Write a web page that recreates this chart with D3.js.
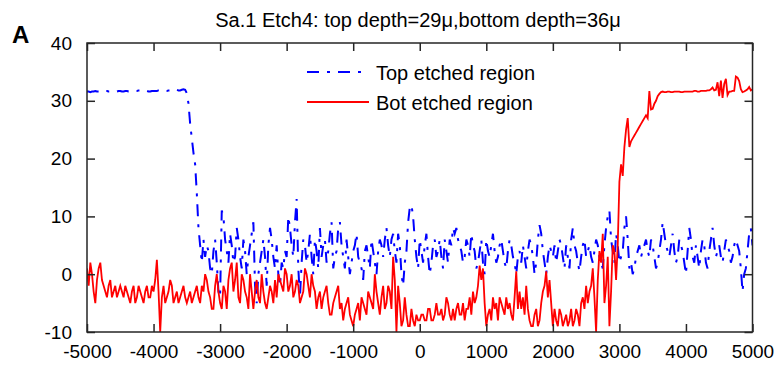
<!DOCTYPE html>
<html lang="en">
<head>
	<meta charset="UTF-8">
	<script src="https://d3js.org/d3.v7.min.js"></script>
	<title>Sa.1 Etch4</title>
<style>
	body { margin: 0; background: #fff; }
	text { font-family: "Liberation Sans", Arial, sans-serif; fill: #000; }
</style>
</head>
<body>
	<svg width="777" height="368"></svg>
<script>
	// sample positions along the scan (every 25, from -5000)
	var xStart = -5000, xStep = 25;

	// top etched region (blue, dash-dot); one row = 500 units
	var topRegion = [
		31.6,
		31.6, 31.5, 31.6, 31.6, 31.7, 31.6, 31.6, 31.7, 31.6, 31.6, 31.7, 31.7, 31.6, 31.6, 31.7, 31.7, 31.6, 31.6, 31.7, 31.7,
		31.6, 31.6, 31.7, 31.7, 31.6, 31.6, 31.6, 31.6, 31.7, 31.7, 31.8, 31.8, 31.7, 31.6, 31.7, 31.7, 31.6, 31.6, 31.7, 31.7,
		31.7, 31.7, 31.8, 31.8, 31.7, 31.6, 31.7, 31.7, 31.8, 31.8, 31.7, 31.7, 31.9, 31.9, 31.8, 31.8, 31.9, 32.0, 31.9, 31.3,
		29.5, 26, 23.5, 21, 19, 14, 8, 5, 2, 6, 3, 5, 4, 1, 0, 4, 6, 2, -3, -4,
		11, 10, 6, 4, 2, 7, 5, 2, 3, 8, 6, 3, 1, 6, 4, 0, 3, 5, 7, 9,
		-2, -5, 0, 2, 4, 6, 3, -2, 5, 8, 6, 3, 1, 5, 0, -2, 2, 1, 4, 3,
		10, 8, 5, 3, 9, 13, 1, -4, 2, 6, 5, 2, 4, 7, 3, 0, 6, 4, 1, 8,
		3, 5, 6, 2, 4, 7, 9, 1, 3, 4, 8, 9, 5, 3, 1, 6, 3, 0, 2, 4,
		5, 7, 3, 2, 1, -1, 4, 5, 3, 1, 6, 4, 2, 0, 4, 6, 5, 3, 6, 8,
		5, 3, 6, 7, 4, 2, 7, 5, 0, -2, 2, 4, 9, 11.5, 12, 10, 6, 3, 1, 6,
		4, 2, 5, 7, 3, 0, 2, 5, 6, 3, 4, 6, 3, 1, 6, 4, 2, 6, 5, 8,
		7, 8, 6, 5, 4, 2, 3, 6, 5, 3, 7, 5, 4, 1, 2, 4, 6, 2, 0, 6,
		4, 3, 5, 7, 4, 2, 3, 5, 6, 4, 2, 1, 4, 6, 5, 3, 2, 0, 3, 4,
		2, 5, 3, 1, 4, 6, 5, 3, 0, 2, 6, 8.5, 7, 4, 2, 0, 3, 5, 4, 3,
		5, 2, 4, 6, 5, 3, 1, 5, 3, 1, 6, 8, 5, 4, 2, 0.5, 3, 5, 6, 3,
		4, 5, 3, 2, 4, 6, 5, 3, 2, 1, 5, 8, 10, 11, 6, 4, 2, 7, 5, 2,
		3, 4, 8, 10, 6, 1, 2, 0, 1, 3, 4, 5, 3, 4, 5, 6, 4, 3, 6, 5,
		3, 1, 2, 4, 6, 9, 7, 5, 4, 3, 5, 7, 4, 2, 3, 6, 5, 4, 2, 0,
		4, 8, 6, 3, 2, 5, 3, 1, 4, 6, 5, 2, 1, 4, 6, 8, 5, 3, 4, 5,
		3, 2, 4, 6, 5, 4, 2, 3, 5, 6, 5, 4, 1, -3, 0, 1, 4, 7, 8, 5
	];

	// bottom etched region (red, solid); one row = 500 units
	var botRegion = [
		1,
		-2, 2, 0, -3, -5, -1, 1, 2, -1, -2, -3, -4, -2, -1, -4, -3, -2, -4, -3, -2,
		-3, -4, -2, -3, -4, -5, -3, -2, -5, -4, -2, -3, -4, -5, -3, -2, -4, -4, -2, -3,
		-1, 2.5, -3, -10, -4, -2, -5, -4, -3, -1, -2, -5, -4, -3, -5, -4, -3, -2, -4, -5,
		-4, -3, -5, -4, -3, -2, -4, -5, -2, -3, 0, -1, -3, -4, -6, -6, -2, 0, -3, -5,
		-6, -2, -3, -6, -1, 1, 2, -3, -1, 2, -4, -5, 0, -1, -3, -4, -6, 0, -3, -6,
		-3, -1, -4, -5, 0, -3, -5, -6, -4, -2, -3, -5, -1, -4, 0, -1, -2, -3, 1, 0,
		-3, -2, 0, -4, -3, -1, -2, -5, -4, -3, 1, 0, -2, -4, 0, -2, -3, -6, -4, -3,
		-6, -4, -3, -2, -5, -7, -7, -5, -4, -3, -2, -6, -5, -8, -6, -5, -4, -7, -8, -9,
		-7, -6, -5, -8, -4, -5, -6, -7, -3, -4, -5, -6, 0, -3, -5, -7, -4, -2, -6, -5,
		-2, -3, -6, 3, -1, -10, -2, -5, -9, -8, -4, -7, -9, -9, -6, -8, -9, -7, -8, -8,
		-7, -7, -8, -8, -6, -6, -8, -8, -7, -5, -7, -7, -6, -8, -7, -4, -5, -7, -8, -6,
		-8, -6, -5, -7, -7, -5, -8, -6, -6, -4, -7, -3, -5, -4, -2, 1.5, -1, 1, -5, -9,
		-7, -6, -8, -4, -6, -5, -8, -4, -5, -6, -7, -4, -6, -5, -7, -8, -4, 0.5, -6, -3,
		-6, -4, -7, -2, -6, -8, -9, -9, -7, -6, -9, -8, -5, -3, -2, 0.5, -4, -1, -5, -9,
		-6, -8, -9, -6, -7, -9, -8, -7, -9, -8, -6, -9, -8, -6, -7, -9, -5, -4, -6, -2,
		-5, -3, -2, 1, -4, -10, -1, 4, 2, 7, -5, -2, 3, -9, -3, 5, 4, -1, 5, 16,
		19, 17, 22, 25, 27, 22, 23, 23.5, 24, 24.5, 25, 25.5, 26, 26.5, 27, 27.5, 27, 31.7, 28.5, 28.6,
		29.5, 30, 30.8, 31.2, 31.5, 31.6, 31.5, 31.5, 31.6, 31.6, 31.5, 31.5, 31.6, 31.6, 31.6, 31.6, 31.5, 31.5, 31.6, 31.6,
		31.6, 31.6, 31.6, 31.6, 31.7, 31.7, 31.6, 31.6, 31.7, 31.7, 31.7, 31.7, 31.8, 31.8, 32.0, 32.3, 31.8, 31.9, 33.2, 30.8,
		33.5, 30.5, 32.9, 33.8, 31.0, 31.6, 31.6, 31.7, 31.7, 34.2, 34.0, 33.4, 32.0, 31.5, 31.6, 31.8, 32.0, 32.4, 31.8, 32.0
	];

	var xTicks = [-5000, -4000, -3000, -2000, -1000, 0, 1000, 2000, 3000, 4000, 5000];
	var yTicks = [-10, 0, 10, 20, 30, 40];
	var seriesNames = ["Top etched region", "Bot etched region"];
	var title = "Sa.1 Etch4: top depth=29\u03bc,bottom depth=36\u03bc";

	var svg = d3.select('svg');
	var plotL = 87, plotR = 752.5, plotT = 43, plotB = 332;

	var x = d3.scaleLinear().domain([-5000, 5000]).range([plotL, plotR]);
	var y = d3.scaleLinear().domain([-10, 40]).range([plotB, plotT]);

	svg.append('rect').attr('width', 777).attr('height', 368).attr('fill', '#fff');

	svg.append('clipPath').attr('id', 'plotclip')
		.append('rect')
		.attr('x', plotL).attr('y', plotT - 1)
		.attr('width', plotR - plotL).attr('height', plotB - plotT + 2);

	function toPoints(vals) {
		return vals.map(function(v, i) { return [xStart + i * xStep, v]; });
	}

	var line = d3.line()
		.x(function(d) { return x(d[0]); })
		.y(function(d) { return y(d[1]); });

	var plot = svg.append('g').attr('clip-path', 'url(#plotclip)');

	plot.append('path')
		.datum(toPoints(topRegion))
		.attr('d', line)
		.attr('fill', 'none')
		.attr('stroke', '#0000ff')
		.attr('stroke-width', 2)
		.attr('stroke-dasharray', '12,8,3,8');

	plot.append('path')
		.datum(toPoints(botRegion))
		.attr('d', line)
		.attr('fill', 'none')
		.attr('stroke', '#ff0000')
		.attr('stroke-width', 1.8);

	// axes: ticks inside on all four sides
	var tickLen = 8;
	var axisColor = '#262626';
	var fmt = function(d) { return String(d); };

	svg.append('g').attr('transform', 'translate(0,' + plotB + ')')
		.call(d3.axisBottom(x).tickValues(xTicks).tickSizeInner(-tickLen).tickSizeOuter(0).tickPadding(13).tickFormat(fmt))
		.call(styleAxis);
	svg.append('g').attr('transform', 'translate(0,' + plotT + ')')
		.call(d3.axisTop(x).tickValues(xTicks).tickSizeInner(-tickLen).tickSizeOuter(0).tickFormat(''))
		.call(styleAxis);
	svg.append('g').attr('transform', 'translate(' + plotL + ',0)')
		.call(d3.axisLeft(y).tickValues(yTicks).tickSizeInner(-tickLen).tickSizeOuter(0).tickPadding(15).tickFormat(fmt))
		.call(styleAxis);
	svg.append('g').attr('transform', 'translate(' + plotR + ',0)')
		.call(d3.axisRight(y).tickValues(yTicks).tickSizeInner(-tickLen).tickSizeOuter(0).tickFormat(''))
		.call(styleAxis);

	function styleAxis(g) {
		g.select('.domain').remove();
		g.selectAll('line').attr('stroke', axisColor).attr('stroke-width', 1.5);
		g.selectAll('text')
			.style('font-family', '"Liberation Sans", Arial, sans-serif')
			.style('font-size', '19px')
			.attr('fill', '#000');
	}

	svg.append('rect')
		.attr('x', plotL).attr('y', plotT)
		.attr('width', plotR - plotL).attr('height', plotB - plotT)
		.attr('fill', 'none')
		.attr('stroke', axisColor)
		.attr('stroke-width', 1.5);

	// legend (no box)
	var legend = svg.append('g');
	var legendStyles = [
		{color: '#0000ff', dash: '12,8,3,8', y: 72},
		{color: '#ff0000', dash: null, y: 102}
	];
	legendStyles.forEach(function(s, i) {
		legend.append('line')
			.attr('x1', 307).attr('x2', 369)
			.attr('y1', s.y).attr('y2', s.y)
			.attr('stroke', s.color)
			.attr('stroke-width', 1.8)
			.attr('stroke-dasharray', s.dash);
		legend.append('text')
			.attr('x', 376).attr('y', s.y + 8)
			.style('font-size', '20px')
			.text(seriesNames[i]);
	});

	svg.append('text')
		.attr('x', 418).attr('y', 27)
		.attr('text-anchor', 'middle')
		.style('font-size', '20px')
		.text(title);

	svg.append('text')
		.attr('x', 12).attr('y', 43)
		.style('font-size', '24px')
		.style('font-weight', 'bold')
		.text('A');
</script>
</body>
</html>
